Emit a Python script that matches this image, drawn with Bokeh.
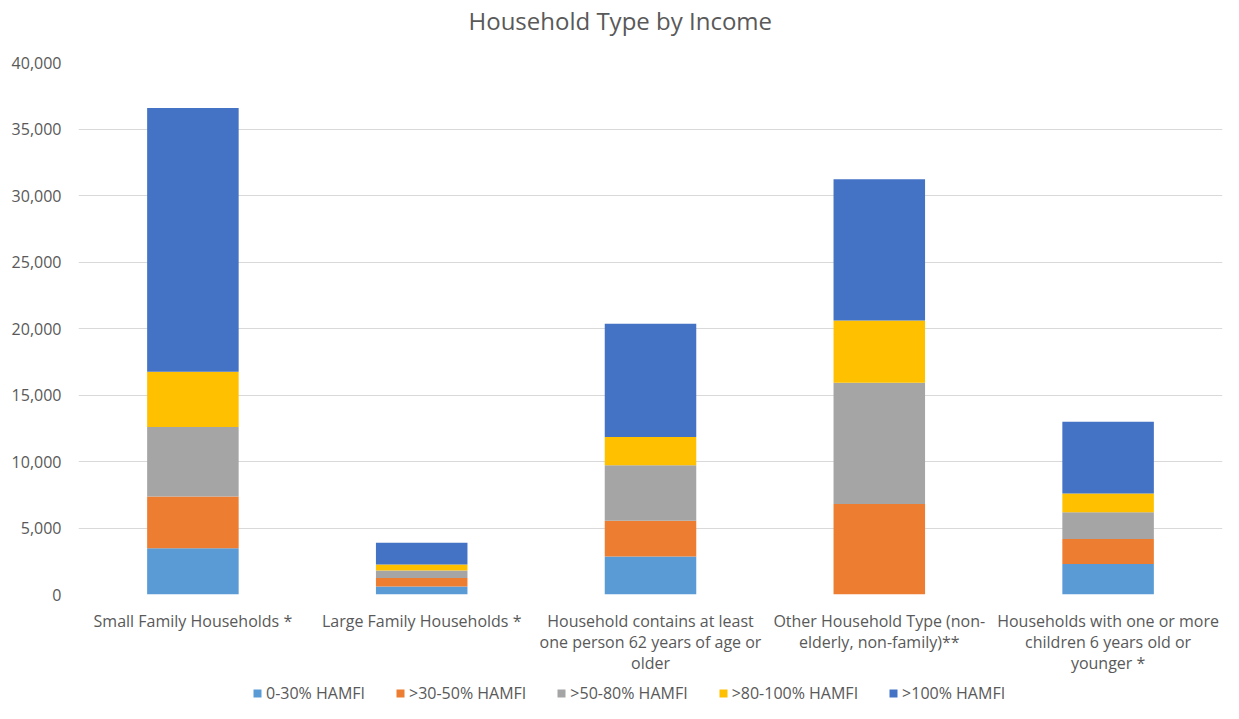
from bokeh.plotting import figure
from bokeh.layouts import column
from bokeh.models import (ColumnDataSource, Legend, LegendItem, NumeralTickFormatter,
                          FixedTicker, Range1d)
from bokeh.embed import file_html
from bokeh.resources import INLINE

categories = [
    "Small Family Households *",
    "Large Family Households *",
    "Household contains at least\none person 62 years of age or\nolder",
    "Other Household Type (non-\nelderly, non-family)**",
    "Households with one or more\nchildren 6 years old or\nyounger *",
]
series_names = ["0-30% HAMFI", ">30-50% HAMFI", ">50-80% HAMFI", ">80-100% HAMFI", ">100% HAMFI"]
v_0_30 = [3480, 600, 2850, 0, 2300]
v_30_50 = [3890, 650, 2700, 6800, 1880]
v_50_80 = [5230, 550, 4170, 9130, 2000]
v_80_100 = [4150, 450, 2130, 4670, 1420]
v_100 = [19830, 1650, 8500, 10620, 5380]
colors = ["#5B9BD5", "#ED7D31", "#A5A5A5", "#FFC000", "#4472C4"]
y_ticks = [0, 5000, 10000, 15000, 20000, 25000, 30000, 35000, 40000]
chart_title = "Household Type by Income"

keys = ["s0", "s1", "s2", "s3", "s4"]
source = ColumnDataSource(dict(cat=categories, s0=v_0_30, s1=v_30_50, s2=v_50_80, s3=v_80_100, s4=v_100))

FONT = "Open Sans"
TXT = "#595959"


def blank_strip(height, **kw):
    f = figure(width=1239, height=height, x_range=Range1d(0, 1), y_range=Range1d(0, 1),
               x_axis_location=None, y_axis_location=None,
               output_backend="svg", toolbar_location=None,
               min_border_left=0, min_border_right=0, min_border_bottom=0, **kw)
    f.grid.visible = False
    f.outline_line_color = None
    return f


# title strip
tf = blank_strip(44, title=chart_title, title_location="above", min_border_top=2)
tf.title.align = "left"
tf.title.offset = 390
tf.title.text_font = FONT
tf.title.text_font_size = "24px"
tf.title.text_font_style = "normal"
tf.title.text_color = TXT
tf.title.standoff = 2

# main chart
p = figure(x_range=categories, y_range=Range1d(0, 40000),
           width=1239, height=632, title_location=None,
           output_backend="svg", toolbar_location=None,
           min_border_left=78, min_border_right=17, min_border_top=18, min_border_bottom=80)

renderers = p.vbar_stack(keys, x="cat", width=0.4, color=colors, source=source, line_width=0)

p.yaxis.ticker = FixedTicker(ticks=y_ticks)
p.yaxis.formatter = NumeralTickFormatter(format="0,0")
for ax in (p.xaxis[0], p.yaxis[0]):
    ax.axis_line_color = None
    ax.major_tick_line_color = None
    ax.minor_tick_line_color = None
    ax.major_label_text_font = FONT
    ax.major_label_text_font_size = "16px"
    ax.major_label_text_color = TXT
p.yaxis.major_label_standoff = 11
p.xaxis.major_label_standoff = 9
p.xaxis.major_label_text_line_height = 0.96

p.xgrid.grid_line_color = None
p.ygrid.grid_line_color = "#D9D9D9"
p.ygrid.grid_line_width = 1
p.outline_line_color = None

# legend strip
lg = blank_strip(43, title_location=None, min_border_top=0)
dummies = [lg.vbar(x=[-10], top=[0], bottom=[0], width=0.1, fill_color=c, line_color=None)
           for c in colors]
items = [LegendItem(label=n, renderers=[r]) for n, r in zip(series_names, dummies)]
legend = Legend(items=items, orientation="horizontal", location=(174, 15),
                label_text_font=FONT, label_text_font_size="16px", label_text_color=TXT,
                glyph_width=10, glyph_height=10, spacing=30, label_standoff=4,
                border_line_color=None, background_fill_alpha=0, margin=0, padding=2)
lg.add_layout(legend, "center")

layout = column(tf, p, lg, spacing=0)
open("out.html", "w").write(file_html(layout, INLINE))
